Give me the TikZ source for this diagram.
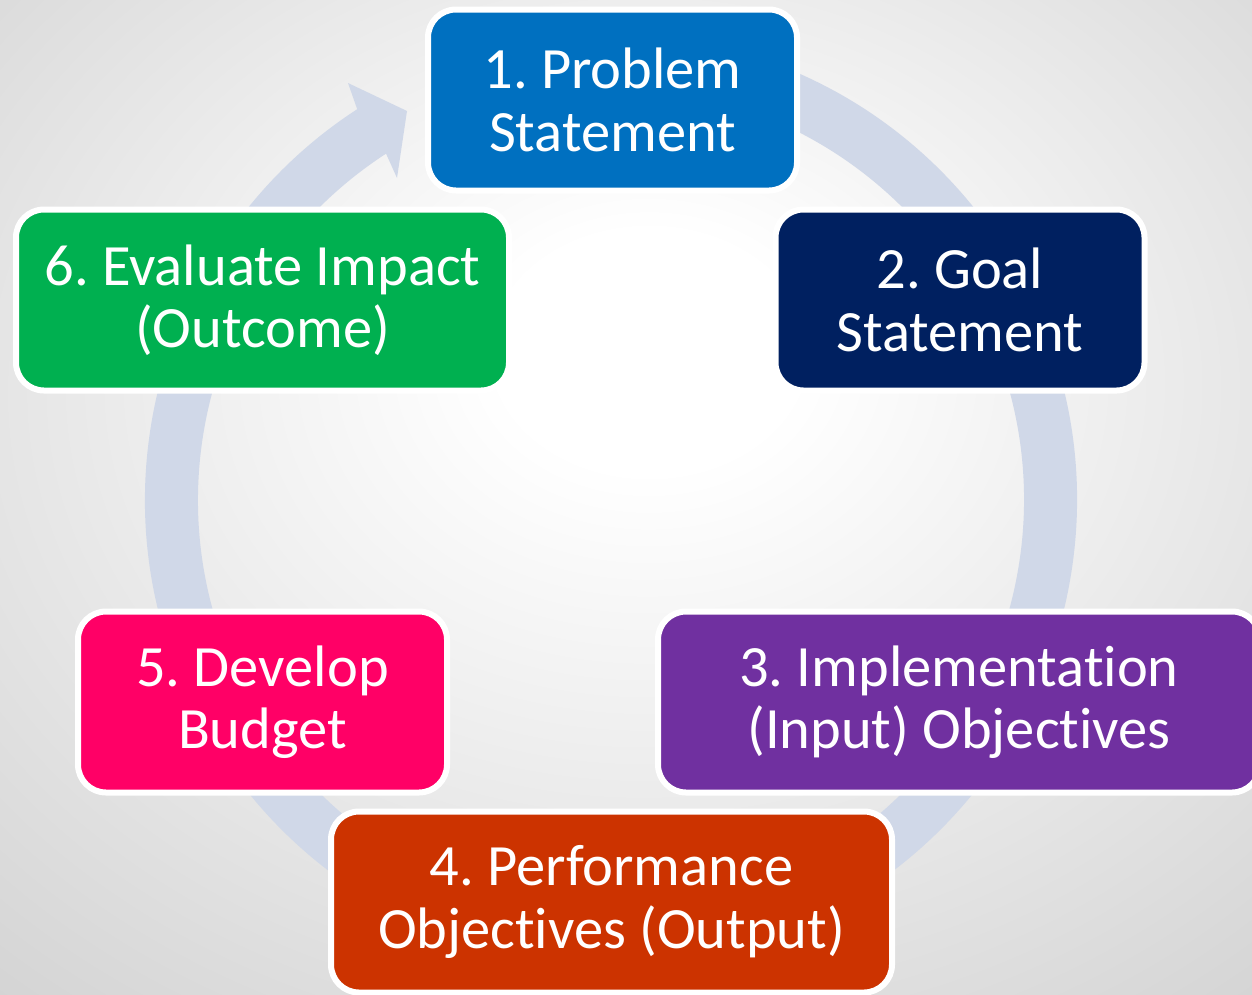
\documentclass[tikz,border=0pt]{standalone}
\usepackage{fontspec}
\setmainfont{Carlito}[Ligatures={NoCommon}]
\usetikzlibrary{calc}
\definecolor{ringc}{RGB}{208,216,232}
\definecolor{bgedge}{RGB}{168,168,168}
\definecolor{cone}{RGB}{0,112,192}
\definecolor{ctwo}{RGB}{0,32,96}
\definecolor{cthree}{RGB}{112,48,160}
\definecolor{cfour}{RGB}{204,51,0}
\definecolor{cfive}{RGB}{255,0,102}
\definecolor{csix}{RGB}{0,176,80}
\pgfdeclareradialshading{bgshade}{\pgfpoint{1bp}{8bp}}{color(0bp)=(white); color(6bp)=(white); color(72bp)=(bgedge)}
\begin{document}
\frenchspacing
\begin{tikzpicture}[x=1pt,y=-1pt,
  stage/.style={draw=white, line width=6pt, rounded corners=28pt, inner sep=0pt,
    align=center, text=white, font=\fontsize{58.5}{62.5}\selectfont, minimum height=181pt}]
\useasboundingbox (0,0) rectangle (1252,994);
\clip (0,0) rectangle (1252,994);
\shade[shading=bgshade] (0,0) rectangle (1252,994);
\coordinate (C) at (611,500);
% circular arrow
\fill[ringc] ($(C)+(-80:466)$) arc[start angle=-80, end angle=237, radius=466]
  -- (348,83) -- (407,111) -- (397,178)
  -- ($(C)+(237:413)$) arc[start angle=237, end angle=-80, radius=413] -- cycle;
% stages
\node[stage, fill=cone, minimum width=369pt] (s1) at (612.5,100) {1. Problem\\Statement};
\node[stage, fill=ctwo, minimum width=369pt] (s2) at (960,300) {2. Goal\\Statement};
\node[stage, fill=cthree, minimum width=602pt] (s3) at (959,702) {3. Implementation\\(Input) Objectives};
\node[stage, fill=cfour, minimum width=561pt] (s4) at (611.5,902) {4. Performance\\Objectives (Output)};
\node[stage, fill=cfive, minimum width=369pt] (s5) at (262.5,702) {5. Develop\\Budget};
\node[stage, fill=csix, minimum width=493pt] (s6) at (262.5,300) {6. Evaluate Impact\\(Outcome)};
\end{tikzpicture}
\end{document}
